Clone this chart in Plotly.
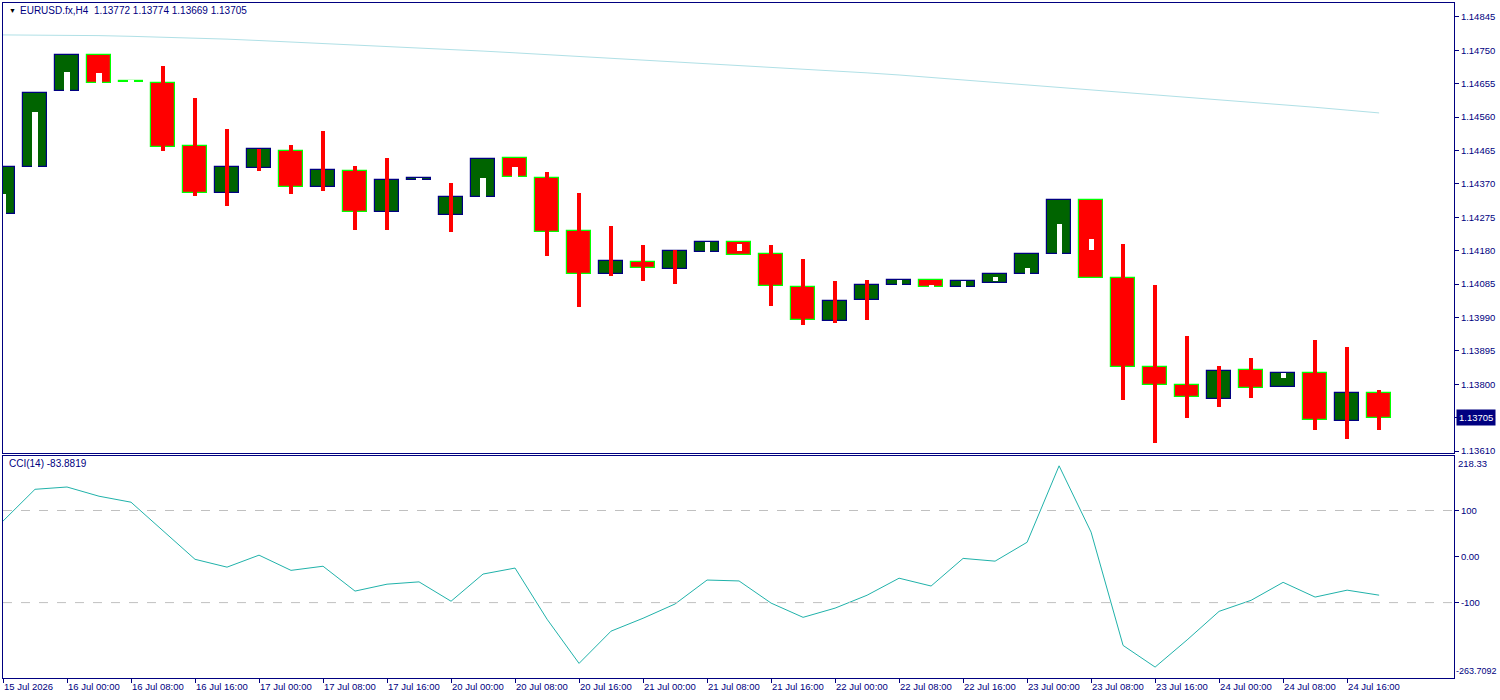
import plotly.graph_objects as go

# ---------------- data ----------------
opens = [1.14284, 1.14418, 1.14635, 1.14737, 1.14661, 1.14656, 1.14477, 1.14345, 1.14414, 1.14465,
         1.14360, 1.14408, 1.14291, 1.14382, 1.14283, 1.14333, 1.14445, 1.14388, 1.14237, 1.14114,
         1.14149, 1.14129, 1.14176, 1.14206, 1.14172, 1.14078, 1.13981, 1.14040, 1.14083, 1.14097,
         1.14078, 1.14089, 1.14113, 1.14172, 1.14325, 1.14103, 1.13850, 1.13798, 1.13757, 1.13841,
         1.13791, 1.13832, 1.13696, 1.13775]
highs = [1.14418, 1.14630, 1.14737, 1.14737, 1.14661, 1.14705, 1.14614, 1.14526, 1.14470, 1.14480,
         1.14520, 1.14420, 1.14443, 1.14384, 1.14372, 1.14442, 1.14445, 1.14403, 1.14343, 1.14249,
         1.14195, 1.14181, 1.14206, 1.14206, 1.14195, 1.14155, 1.14095, 1.14098, 1.14097, 1.14097,
         1.14093, 1.14113, 1.14172, 1.14325, 1.14325, 1.14198, 1.14081, 1.13936, 1.13853, 1.13876,
         1.13832, 1.13927, 1.13907, 1.13785]
lows = [1.14284, 1.14418, 1.14635, 1.14658, 1.14659, 1.14464, 1.14336, 1.14307, 1.14407, 1.14341,
        1.14350, 1.14239, 1.14239, 1.14382, 1.14232, 1.14333, 1.14390, 1.14164, 1.14019, 1.14107,
        1.14093, 1.14084, 1.14176, 1.14169, 1.14022, 1.13968, 1.13974, 1.13982, 1.14083, 1.14078,
        1.14078, 1.14089, 1.14113, 1.14172, 1.14102, 1.13754, 1.13634, 1.13705, 1.13736, 1.13762,
        1.13791, 1.13669, 1.13643, 1.13669]
closes = [1.14418, 1.14630, 1.14737, 1.14658, 1.14659, 1.14474, 1.14345, 1.14418, 1.14468, 1.14361,
          1.14411, 1.14289, 1.14380, 1.14384, 1.14334, 1.14442, 1.14390, 1.14234, 1.14115, 1.14152,
          1.14132, 1.14180, 1.14206, 1.14169, 1.14080, 1.13983, 1.14038, 1.14083, 1.14097, 1.14078,
          1.14093, 1.14113, 1.14172, 1.14325, 1.14102, 1.13848, 1.13797, 1.13763, 1.13838, 1.13789,
          1.13832, 1.13698, 1.13775, 1.13705]
# white inner strips seen inside some candle bodies (top / bottom price), None = none
gap_top = [1.14341, 1.14575, 1.14689, 1.14686, 1.14665, None, None, None, None, None,
           None, None, None, 1.14388, None, 1.14386, 1.14418, None, None, None,
           None, None, 1.14206, 1.14198, None, None, None, None, 1.14097, 1.14082,
           1.14093, 1.14104, 1.14131, 1.14255, 1.14212, None, None, None, None, None,
           1.13832, None, None, None]
gap_bot = [1.14284, 1.14418, 1.14635, 1.14658, 1.14655, None, None, None, None, None,
           None, None, None, 1.14378, None, 1.14333, 1.14390, None, None, None,
           None, None, 1.14176, 1.14178, None, None, None, None, 1.14083, 1.14078,
           1.14078, 1.14093, 1.14113, 1.14172, 1.14181, None, None, None, None, None,
           1.13819, None, None, None]
ma_values = [1.14794, 1.14794, 1.14793, 1.14792, 1.14790, 1.14788, 1.14785, 1.14782, 1.14778, 1.14774,
             1.14770, 1.14766, 1.14761, 1.14757, 1.14752, 1.14748, 1.14743, 1.14738, 1.14733, 1.14728,
             1.14723, 1.14718, 1.14713, 1.14708, 1.14703, 1.14698, 1.14692, 1.14686, 1.14680, 1.14673,
             1.14667, 1.14660, 1.14653, 1.14646, 1.14639, 1.14632, 1.14625, 1.14618, 1.14611, 1.14603,
             1.14595, 1.14588, 1.14580, 1.14572]
cci_values = [77, 146, 151, 131, 118, 57, -6, -23, 3, -30,
              -21, -75, -60, -55, -97, -38, -25, -136, -232, -162,
              -134, -103, -51, -53, -101, -132, -112, -84, -47, -64,
              -4, -10, 31, 197, 53, -193, -240, -181, -119, -95,
              -56, -88, -73, -83.8819]
time_labels = ["15 Jul 2026", "16 Jul 00:00", "16 Jul 08:00", "16 Jul 16:00", "17 Jul 00:00",
               "17 Jul 08:00", "17 Jul 16:00", "20 Jul 00:00", "20 Jul 08:00", "20 Jul 16:00",
               "21 Jul 00:00", "21 Jul 08:00", "21 Jul 16:00", "22 Jul 00:00", "22 Jul 08:00",
               "22 Jul 16:00", "23 Jul 00:00", "23 Jul 08:00", "23 Jul 16:00", "24 Jul 00:00",
               "24 Jul 08:00", "24 Jul 16:00"]
price_ticks = [1.13610, 1.13705, 1.13800, 1.13895, 1.13990, 1.14085, 1.14180, 1.14275,
               1.14370, 1.14465, 1.14560, 1.14655, 1.14750, 1.14845]
cci_ticks = [100, 0, -100]
cci_tick_text = ["100", "0.00", "-100"]
title_text = "EURUSD.fx,H4  1.13772 1.13774 1.13669 1.13705"
cci_text = "CCI(14) -83.8819"
cci_max, cci_min = 218.33, -263.7092
last_price = "1.13705"

# ---------------- styling ----------------
NAVY = "#000080"
BULL_FILL, BULL_LINE = "#006400", "#000080"
BEAR_FILL, BEAR_LINE = "#FF0000", "#00FF00"
FONT = "Liberation Sans"
FS = 9.5

n = len(opens)
xs = list(range(n))
bull = [c >= o for o, c in zip(opens, closes)]
body_base = [min(o, c) for o, c in zip(opens, closes)]
body_h = [max(abs(c - o), 0.00004) for o, c in zip(opens, closes)]

wick_base, wick_h = [], []
for o, h, l, c in zip(opens, highs, lows, closes):
    if h > max(o, c) + 1e-7 or l < min(o, c) - 1e-7:
        wick_base.append(l)
        wick_h.append(h - l)
    else:
        wick_base.append(None)
        wick_h.append(None)

g_h = [(t - b) if t is not None else None for t, b in zip(gap_top, gap_bot)]

fig = go.Figure()

fig.add_trace(go.Scatter(x=xs, y=ma_values, mode="lines",
                         line=dict(color="#B0E0E6", width=1), xaxis="x", yaxis="y",
                         hoverinfo="skip"))

fig.add_trace(go.Bar(x=xs, y=body_h, base=body_base, width=0.76,
                     marker=dict(color=[BULL_FILL if b else BEAR_FILL for b in bull],
                                 line=dict(color=[BULL_LINE if b else BEAR_LINE for b in bull],
                                           width=1.2)),
                     xaxis="x", yaxis="y", hoverinfo="skip"))

fig.add_trace(go.Bar(x=xs, y=g_h, base=gap_bot, width=0.16,
                     marker=dict(color="white", line=dict(width=0)),
                     xaxis="x", yaxis="y", hoverinfo="skip"))

fig.add_trace(go.Bar(x=xs, y=wick_h, base=wick_base, width=0.12,
                     marker=dict(color="#FF0000", line=dict(width=0)),
                     xaxis="x", yaxis="y", hoverinfo="skip"))

fig.add_trace(go.Scatter(x=xs, y=cci_values, mode="lines",
                         line=dict(color="#20B2AA", width=1), xaxis="x2", yaxis="y2",
                         hoverinfo="skip"))

x_range = [0, 45.34]
axis_font = dict(family=FONT, size=FS, color=NAVY)

fig.update_layout(
    width=1500, height=700,
    margin=dict(l=3, r=46, t=3, b=22),
    paper_bgcolor="white", plot_bgcolor="white",
    showlegend=False, barmode="overlay", bargap=0,
    font=axis_font,
    xaxis=dict(domain=[0, 1], range=x_range, anchor="y", showticklabels=False,
               ticks="", showgrid=False, zeroline=False, automargin=False,
               showline=True, mirror=True, linecolor=NAVY, linewidth=1),
    yaxis=dict(domain=[0.3333, 1], range=[1.136043, 1.148848], side="right",
               tickvals=price_ticks, tickformat=".5f", ticks="outside", ticklen=4,
               tickcolor=NAVY, showgrid=False, zeroline=False, automargin=False,
               showline=True, mirror=True, linecolor=NAVY, linewidth=1,
               tickfont=axis_font),
    xaxis2=dict(domain=[0, 1], range=x_range, anchor="y2",
                tickvals=[2 * i for i in range(len(time_labels))], ticktext=time_labels,
                tickangle=0, ticks="outside", ticklen=4, tickcolor=NAVY,
                ticklabelposition="outside right", automargin=False,
                showgrid=False, zeroline=False,
                showline=True, mirror=True, linecolor=NAVY, linewidth=1,
                tickfont=axis_font),
    yaxis2=dict(domain=[0, 0.3289], range=[cci_min, cci_max], side="right",
                tickvals=cci_ticks, ticktext=cci_tick_text, ticks="outside", ticklen=4,
                tickcolor=NAVY, showgrid=False, zeroline=False, automargin=False,
                showline=True, mirror=True, linecolor=NAVY, linewidth=1,
                tickfont=axis_font),
)

# CCI level lines
for lvl in (100, -100):
    fig.add_shape(type="line", xref="x2 domain", x0=0, x1=1, yref="y2", y0=lvl, y1=lvl,
                  line=dict(color="#C0C0C0", width=1, dash="dash"))

# texts
fig.add_annotation(text="▼", xref="x domain", yref="y domain", x=0.0025, y=0.984,
                   xanchor="left", yanchor="middle", showarrow=False,
                   font=dict(family=FONT, size=7, color="#000000"))
fig.add_annotation(text=title_text, xref="x domain", yref="y domain", x=0.0105, y=0.984,
                   xanchor="left", yanchor="middle", showarrow=False,
                   font=dict(family=FONT, size=10, color=NAVY))
fig.add_annotation(text=cci_text, xref="x2 domain", yref="y2 domain", x=0.003, y=0.968,
                   xanchor="left", yanchor="middle", showarrow=False,
                   font=dict(family=FONT, size=10, color=NAVY))
fig.add_annotation(text=f"{cci_max:.2f}", xref="x2 domain", yref="y2 domain", x=1, y=1,
                   xanchor="left", yanchor="top", xshift=2, showarrow=False,
                   font=dict(family=FONT, size=FS, color=NAVY))
fig.add_annotation(text=f"{cci_min:.4f}", xref="x2 domain", yref="y2 domain", x=1, y=0,
                   xanchor="left", yanchor="bottom", xshift=0, showarrow=False,
                   font=dict(family=FONT, size=FS - 0.5, color=NAVY))
fig.add_annotation(text=last_price, xref="x domain", yref="y", x=1, y=float(last_price),
                   xanchor="left", yanchor="middle", xshift=2, showarrow=False,
                   bgcolor=NAVY, borderpad=2,
                   font=dict(family=FONT, size=FS, color="white"))

fig.write_html("out.html")
